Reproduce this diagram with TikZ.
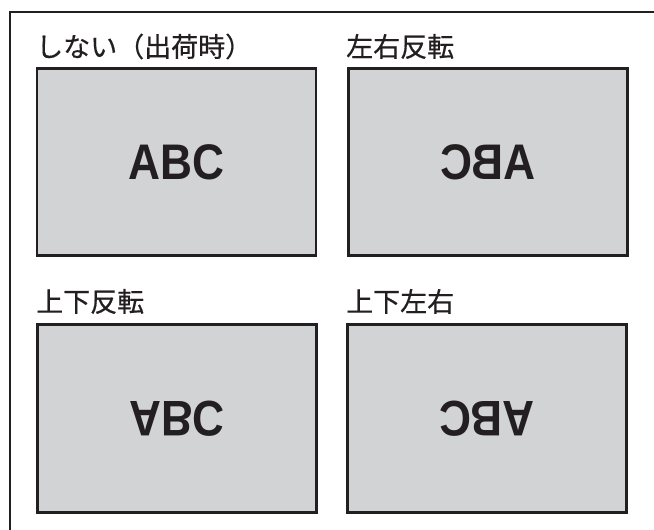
\documentclass[tikz,border=0pt]{standalone}
\usepackage{fontspec}
\newfontfamily\jpfont{Noto Sans CJK JP}[FakeBold=0.5]
\newfontfamily\abcfont{Liberation Sans}
\usepackage{tikz}
\usetikzlibrary{positioning,calc}
\definecolor{inkdark}{RGB}{35,31,32}
\definecolor{screengray}{RGB}{209,211,212}

\begin{document}
\begin{tikzpicture}[x=1pt,y=1pt,
  frame/.style={draw=inkdark,line width=2pt},
  screen/.style={draw=inkdark,fill=screengray,line width=2.7pt,minimum width=279pt,minimum height=187.5pt,inner sep=0pt},
  lbl/.style={anchor=west,inner sep=0pt,text=inkdark,font=\jpfont\fontsize{27}{32}\selectfont},
  abc/.style={inner sep=0pt,text=inkdark,font=\abcfont\bfseries\fontsize{50}{56}\selectfont}]
  \useasboundingbox (0,0) rectangle (654,530);
  % outer frame, cut at the right and bottom
  \coordinate (fb) at (10,0);
  \coordinate (fc) at (10,518);
  \coordinate (fr) at (654,518);
  \draw[frame] (fb) -- (fc) -- (fr);
  % four screens
  \node[screen] (tl) at (176.5,368) {};
  \node[screen] (tr) at (488,368) {};
  \node[screen] (bl) at (177,111.5) {};
  \node[screen] (br) at (487,111.5) {};
  % labels
  \node[lbl] (ltl) at (36,483.5) {しない（出荷時）};
  \node[lbl] (ltr) at (346,483.5) {左右反転};
  \node[lbl] (lbl) at (36,228.5) {上下反転};
  \node[lbl] (lbr) at (346,228.5) {上下左右};
  % picture contents
  \node[abc,xscale=0.885] (atl) at (tl.center) {ABC};
  \node[abc,xscale=-0.885] (atr) at (tr.center) {ABC};
  \node[abc,xscale=0.885,yscale=-1] (abl) at (bl.center) {ABC};
  \node[abc,xscale=-0.885,yscale=-1] (abr) at (br.center) {ABC};
\end{tikzpicture}
\end{document}
